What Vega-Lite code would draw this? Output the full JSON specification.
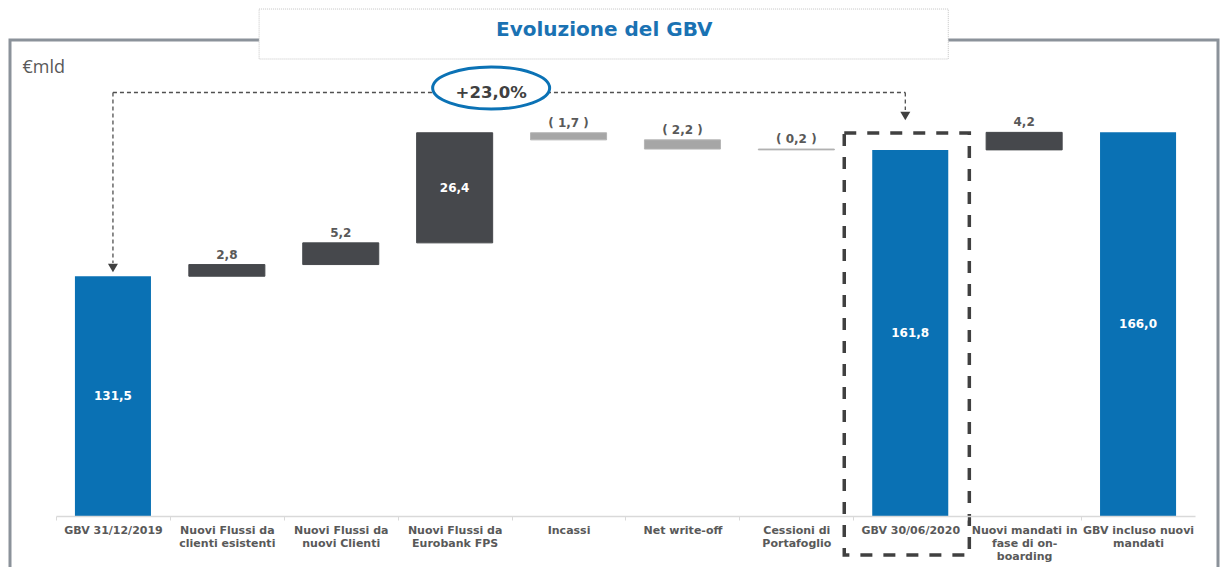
{
  "$schema": "https://vega.github.io/schema/vega-lite/v6.json",
  "width": 1208,
  "height": 540,
  "autosize": {"type": "none"},
  "padding": {"left": 10, "top": 40, "right": 3, "bottom": 0},
  "background": "white",
  "config": {
    "view": {"stroke": "#8b929a", "strokeWidth": 3},
    "font": "DejaVu Sans"
  },
  "data": {
    "values": [
      {"cat": "GBV 31/12/2019", "kind": "total", "start": 0, "end": 131.5, "txt": "131,5"},
      {"cat": "Nuovi Flussi da\nclienti esistenti", "kind": "up", "start": 131.5, "end": 134.3, "txt": "2,8"},
      {"cat": "Nuovi Flussi da\nnuovi Clienti", "kind": "up", "start": 134.3, "end": 139.5, "txt": "5,2"},
      {"cat": "Nuovi Flussi da\nEurobank FPS", "kind": "up", "start": 139.5, "end": 165.9, "txt": "26,4"},
      {"cat": "Incassi", "kind": "down", "start": 165.9, "end": 164.2, "txt": "( 1,7 )"},
      {"cat": "Net write-off", "kind": "down", "start": 164.2, "end": 162.0, "txt": "( 2,2 )"},
      {"cat": "Cessioni di\nPortafoglio", "kind": "down", "start": 162.0, "end": 161.8, "txt": "( 0,2 )"},
      {"cat": "GBV 30/06/2020", "kind": "total", "start": 0, "end": 161.8, "txt": "161,8"},
      {"cat": "Nuovi mandati in\nfase di on-\nboarding", "kind": "up", "start": 161.8, "end": 166.0, "txt": "4,2"},
      {"cat": "GBV incluso nuovi\nmandati", "kind": "total", "start": 0, "end": 166.0, "txt": "166,0"}
    ]
  },
  "resolve": {"scale": {"y": "independent"}, "axis": {"y": "independent"}},
  "layer": [
    {
      "layer": [
        {
          "data": {"values": [{}]},
          "mark": {"type": "rect", "filled": false, "stroke": "#404040", "strokeWidth": 3.5, "strokeDash": [12, 11]},
          "encoding": {
            "x": {"datum": "GBV 30/06/2020", "type": "nominal", "bandPosition": -0.368},
            "x2": {"datum": "GBV 30/06/2020", "bandPosition": 1.277},
            "y": {"datum": 165.85, "type": "quantitative"},
            "y2": {"datum": 64.65}
          }
        },
        {
          "transform": [{"filter": "datum.kind == 'total'"}],
          "mark": {"type": "bar"},
          "encoding": {
            "x": {
              "field": "cat", "type": "nominal",
              "scale": {
                "domain": ["GBV 31/12/2019", "Nuovi Flussi da\nclienti esistenti", "Nuovi Flussi da\nnuovi Clienti", "Nuovi Flussi da\nEurobank FPS", "Incassi", "Net write-off", "Cessioni di\nPortafoglio", "GBV 30/06/2020", "Nuovi mandati in\nfase di on-\nboarding", "GBV incluso nuovi\nmandati"],
                "range": [46, 1185],
                "paddingInner": 0.3325,
                "paddingOuter": 0.16625
              },
              "axis": {
                "title": null,
                "orient": "bottom",
                "offset": -64,
                "labelAngle": 0,
                "labelAlign": "center",
                "labelExpr": "split(datum.value, '\\n')",
                "labelFont": "DejaVu Sans",
                "labelFontWeight": "bold",
                "labelFontSize": 11,
                "labelColor": "#595959",
                "labelLineHeight": 13,
                "labelPadding": 10,
                "tickOffset": -57,
                "labelOffset": 57,
                "labelLimit": 0,
                "labelOverlap": false,
                "domainColor": "#d9d9d9",
                "domainWidth": 1.5,
                "tickColor": "#d9d9d9",
                "tickSize": 4,
                "grid": false
              }
            },
            "y": {
              "field": "end", "type": "quantitative",
              "scale": {"domain": [58.65, 188.15], "nice": false, "zero": false},
              "axis": {
                "title": "€mld",
                "titleAngle": 0,
                "titleAlign": "left",
                "titleBaseline": "alphabetic",
                "titleX": 12,
                "titleY": 32,
                "titleFont": "Open Sans",
                "titleFontSize": 18,
                "titleFontWeight": "normal",
                "titleColor": "#595959",
                "domain": false,
                "ticks": false,
                "labels": false,
                "grid": false
              }
            },
            "y2": {"datum": 74},
            "color": {
              "field": "kind", "type": "nominal", "legend": null,
              "scale": {"domain": ["total", "up", "down"], "range": ["#0a71b4", "#46484c", "#a6a6a6"]}
            }
          }
        },
        {
          "transform": [{"filter": "datum.kind != 'total'"}],
          "mark": {"type": "bar", "strokeWidth": 1},
          "encoding": {
            "x": {"field": "cat", "type": "nominal"},
            "y": {"field": "end", "type": "quantitative"},
            "y2": {"field": "start"},
            "color": {"field": "kind", "type": "nominal", "legend": null},
            "stroke": {
              "field": "kind", "type": "nominal", "legend": null,
              "scale": {"domain": ["total", "up", "down"], "range": ["#0a71b4", "#46484c", "#b4b4b4"]}
            }
          }
        },
        {
          "transform": [
            {"filter": "datum.kind == 'up' && datum.end - datum.start > 10"},
            {"fold": ["start", "end"], "as": ["k", "v"]},
            {"aggregate": [{"op": "mean", "field": "v", "as": "mid"}], "groupby": ["cat", "txt"]}
          ],
          "mark": {"type": "text", "color": "white", "fontWeight": "bold", "fontSize": 12, "baseline": "middle"},
          "encoding": {
            "x": {"field": "cat", "type": "nominal"},
            "y": {"field": "mid", "type": "quantitative"},
            "text": {"field": "txt"}
          }
        },
        {
          "transform": [{"filter": "datum.kind == 'up' && datum.end - datum.start <= 10"}],
          "mark": {"type": "text", "color": "#595959", "fontWeight": "bold", "fontSize": 12, "baseline": "bottom", "dy": -3},
          "encoding": {
            "x": {"field": "cat", "type": "nominal"},
            "y": {"field": "end", "type": "quantitative"},
            "text": {"field": "txt"}
          }
        },
        {
          "transform": [{"filter": "datum.kind == 'down'"}],
          "mark": {"type": "text", "color": "#595959", "fontWeight": "bold", "fontSize": 12, "baseline": "bottom", "dy": -3},
          "encoding": {
            "x": {"field": "cat", "type": "nominal"},
            "y": {"field": "start", "type": "quantitative"},
            "text": {"field": "txt"}
          }
        },
        {
          "data": {"values": [{}]},
          "mark": {"type": "rule", "color": "#505050", "strokeWidth": 1.3, "strokeDash": [4, 3]},
          "encoding": {
            "x": {"datum": "GBV 31/12/2019", "type": "nominal", "bandPosition": 0.5},
            "y": {"datum": 175.56, "type": "quantitative"},
            "y2": {"datum": 134.67}
          }
        },
        {
          "data": {"values": [{}]},
          "mark": {"type": "rule", "color": "#505050", "strokeWidth": 1.3, "strokeDash": [4, 3]},
          "encoding": {
            "x": {"datum": "GBV 31/12/2019", "type": "nominal", "bandPosition": 0.5},
            "x2": {"datum": "GBV 30/06/2020", "bandPosition": 0.435},
            "y": {"datum": 175.56, "type": "quantitative"}
          }
        },
        {
          "data": {"values": [{}]},
          "mark": {"type": "rule", "color": "#505050", "strokeWidth": 1.3, "strokeDash": [4, 3]},
          "encoding": {
            "x": {"datum": "GBV 30/06/2020", "type": "nominal", "bandPosition": 0.435},
            "y": {"datum": 175.56, "type": "quantitative"},
            "y2": {"datum": 171.36}
          }
        },
        {
          "data": {"values": [{}]},
          "mark": {"type": "point", "shape": "triangle-down", "filled": true, "color": "#404040", "size": 100, "opacity": 1},
          "encoding": {
            "x": {"datum": "GBV 31/12/2019", "type": "nominal", "bandPosition": 0.5},
            "y": {"datum": 133.47, "type": "quantitative"}
          }
        },
        {
          "data": {"values": [{}]},
          "mark": {"type": "point", "shape": "triangle-down", "filled": true, "color": "#404040", "size": 100, "opacity": 1},
          "encoding": {
            "x": {"datum": "GBV 30/06/2020", "type": "nominal", "bandPosition": 0.435},
            "y": {"datum": 169.92, "type": "quantitative"}
          }
        },
        {
          "data": {"values": [{}]},
          "mark": {"type": "point", "shape": "M-1,0A1,0.36,0,1,1,1,0A1,0.36,0,1,1,-1,0Z", "size": 13689, "fill": "white", "stroke": "#0b72b5", "strokeWidth": 3, "opacity": 1, "fillOpacity": 1},
          "encoding": {
            "x": {"datum": "Nuovi Flussi da\nEurobank FPS", "type": "nominal", "bandPosition": 0.98},
            "y": {"datum": 176.64, "type": "quantitative"}
          }
        },
        {
          "data": {"values": [{"t": "+23,0%"}]},
          "mark": {"type": "text", "color": "#404040", "fontWeight": "bold", "fontSize": 16.5, "baseline": "middle"},
          "encoding": {
            "x": {"datum": "Nuovi Flussi da\nEurobank FPS", "type": "nominal", "bandPosition": 0.98},
            "y": {"datum": 175.44, "type": "quantitative"},
            "text": {"field": "t"}
          }
        },
        {
          "data": {"values": [{}]},
          "mark": {"type": "rect", "fill": "white", "stroke": "#c4c4c4", "strokeWidth": 1, "strokeDash": [1, 1]},
          "encoding": {
            "x": {"datum": "Nuovi Flussi da\nnuovi Clienti", "type": "nominal", "bandPosition": -0.574},
            "x2": {"datum": "GBV 30/06/2020", "bandPosition": 1.0},
            "y": {"datum": 195.58, "type": "quantitative"},
            "y2": {"datum": 183.59}
          }
        },
        {
          "data": {"values": [{"t": "Evoluzione del GBV"}]},
          "mark": {"type": "text", "color": "#1a72b3", "fontWeight": "bold", "fontSize": 20, "baseline": "middle"},
          "encoding": {
            "x": {"datum": "Incassi", "type": "nominal", "bandPosition": 0.97},
            "y": {"datum": 190.55, "type": "quantitative"},
            "text": {"field": "t"}
          }
        }
      ]
    },
    {
      "transform": [{"filter": "datum.kind == 'total'"}],
      "mark": {"type": "text", "color": "white", "fontWeight": "bold", "fontSize": 12, "baseline": "middle"},
      "encoding": {
        "x": {"field": "cat", "type": "nominal"},
        "y": {
          "field": "end", "type": "quantitative",
          "scale": {"domain": [43.3, 302.3], "nice": false, "zero": false},
          "axis": null
        },
        "text": {"field": "txt"}
      }
    }
  ]
}
